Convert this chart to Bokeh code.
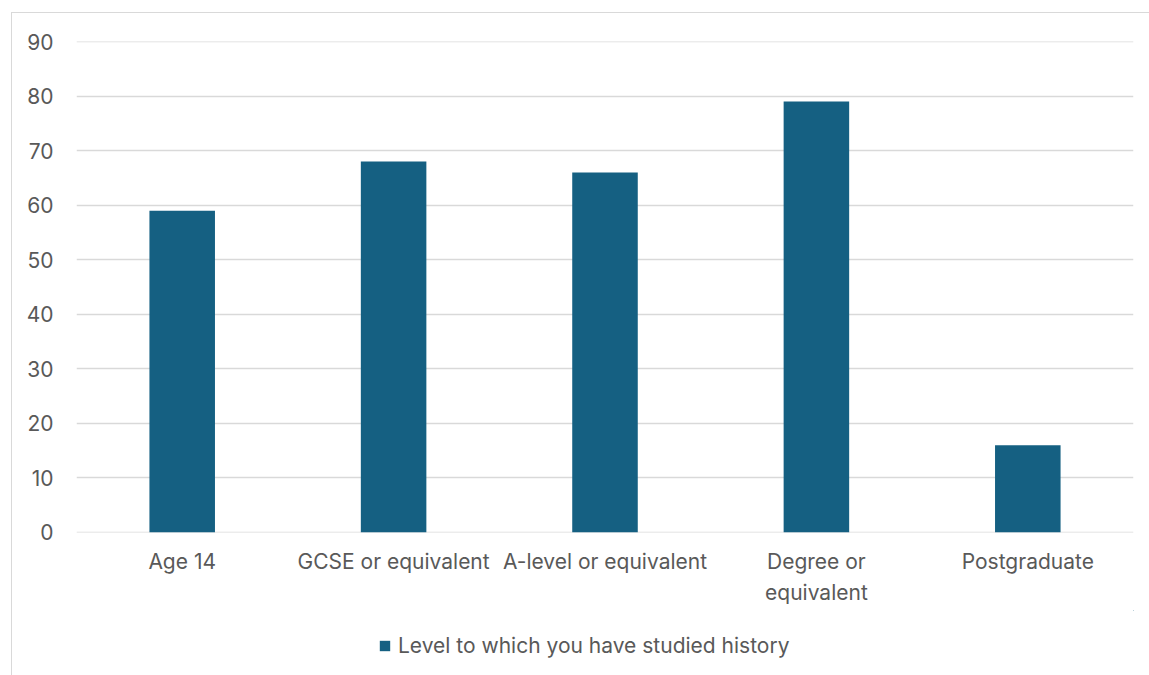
from bokeh.plotting import figure
from bokeh.layouts import column
from bokeh.models import ColumnDataSource, Range1d, Legend, LegendItem, FixedTicker
from bokeh.embed import file_html
from bokeh.resources import INLINE

# Survey answers: level to which respondents studied history
levels = ["Age 14", "GCSE or equivalent", "A-level or equivalent",
          "Degree or\nequivalent", "Postgraduate"]
counts = [59, 68, 66, 79, 16]
y_ticks = [0, 10, 20, 30, 40, 50, 60, 70, 80, 90]
series_name = "Level to which you have studied history"

BAR = "#156082"
GRID = "#d9d9d9"
TEXT = "#595959"
FONT = "Inter"
FSIZE = "21px"

source = ColumnDataSource(dict(level=levels, count=counts))

# ---- bar chart -------------------------------------------------------------
p = figure(
    x_range=levels, y_range=Range1d(-0.02, 90.02),
    frame_width=1057, frame_height=491,
    output_backend="svg", toolbar_location=None,
    min_border_left=76, min_border_right=16,
    min_border_top=41, min_border_bottom=78,
)
p.border_fill_alpha = 0
p.outline_line_color = None
p.background_fill_color = "white"

bars = p.vbar(x="level", top="count", width=0.31, bottom=0, source=source,
              fill_color=BAR, line_color=None)

# value axis: labels only, gridlines every 10
p.yaxis.ticker = FixedTicker(ticks=y_ticks)
p.yaxis.axis_line_color = None
p.yaxis.major_tick_line_color = None
p.yaxis.minor_tick_line_color = None
p.yaxis.major_label_standoff = 17
p.yaxis.major_label_text_font = FONT
p.yaxis.major_label_text_font_size = FSIZE
p.yaxis.major_label_text_color = TEXT

p.ygrid.ticker = FixedTicker(ticks=y_ticks)
p.ygrid.grid_line_color = GRID
p.ygrid.grid_line_width = 1.3
p.xgrid.grid_line_color = None

# category axis
p.xaxis.axis_line_color = None
p.xaxis.major_tick_line_color = None
p.xaxis.minor_tick_line_color = None
p.xaxis.major_label_standoff = 10
p.xaxis.major_label_text_font = FONT
p.xaxis.major_label_text_font_size = FSIZE
p.xaxis.major_label_text_color = TEXT
p.xaxis.major_label_text_line_height = 1.25

# ---- legend strip underneath -----------------------------------------------
leg = figure(
    width=1149, height=65, x_range=Range1d(0, 1), y_range=Range1d(0, 1),
    x_axis_location=None, y_axis_location=None,
    output_backend="svg", toolbar_location=None, min_border=0,
)
leg.grid.visible = False
leg.outline_line_color = None
leg.background_fill_alpha = 0
leg.border_fill_alpha = 0
# same series as zero-height bars outside this strip's view; only the swatch shows
swatch = leg.vbar(x="count", top="count", bottom="count", width=0.31, source=source,
                  fill_color=BAR, line_color=None)

legend = Legend(
    items=[LegendItem(label=series_name, renderers=[swatch])],
    location=(302, 17), orientation="horizontal",
    label_text_font=FONT, label_text_font_size=FSIZE, label_text_color=TEXT,
    glyph_width=13, glyph_height=13, label_standoff=7,
    padding=0, margin=0, border_line_color=None, background_fill_alpha=0,
)
leg.add_layout(legend, "center")

# thin grey chart-area border 11px in / 12px down, behind both transparent canvases
layout = column(p, leg, spacing=0, styles={
    "background": (
        f"linear-gradient({GRID},{GRID}) 11px 12px / 1px 100% no-repeat, "
        f"linear-gradient({GRID},{GRID}) 11px 12px / 100% 1px no-repeat, white"
    )
})

open("out.html", "w").write(file_html(layout, INLINE))
